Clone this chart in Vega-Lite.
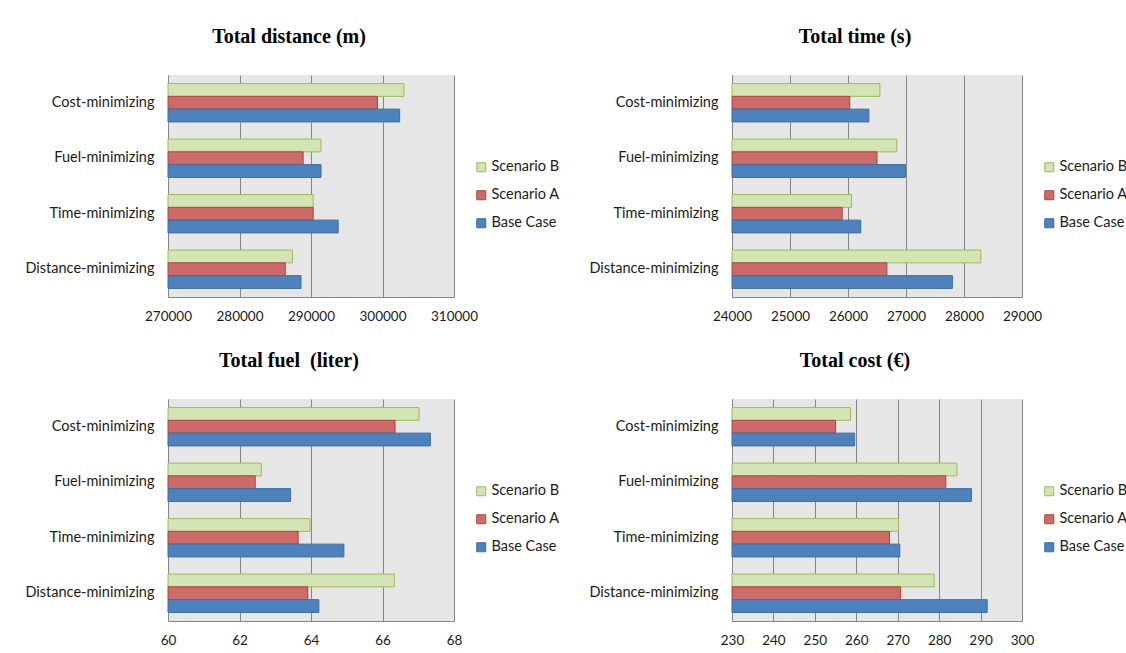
{
  "$schema": "https://vega.github.io/schema/vega-lite/v6.json",
  "background": "white",
  "padding": {"left": 5, "top": 27, "right": 5, "bottom": 5},
  "columns": 2,
  "spacing": {"row": 102, "column": 278},
  "bounds": "flush",
  "data": {
    "values": [
      {"metric": "distance", "strategy": "Cost-minimizing", "scenario": "Scenario B", "value": 303000},
      {"metric": "distance", "strategy": "Cost-minimizing", "scenario": "Scenario A", "value": 299300},
      {"metric": "distance", "strategy": "Cost-minimizing", "scenario": "Base Case", "value": 302400},
      {"metric": "distance", "strategy": "Fuel-minimizing", "scenario": "Scenario B", "value": 291400},
      {"metric": "distance", "strategy": "Fuel-minimizing", "scenario": "Scenario A", "value": 288900},
      {"metric": "distance", "strategy": "Fuel-minimizing", "scenario": "Base Case", "value": 291400},
      {"metric": "distance", "strategy": "Time-minimizing", "scenario": "Scenario B", "value": 290300},
      {"metric": "distance", "strategy": "Time-minimizing", "scenario": "Scenario A", "value": 290300},
      {"metric": "distance", "strategy": "Time-minimizing", "scenario": "Base Case", "value": 293800},
      {"metric": "distance", "strategy": "Distance-minimizing", "scenario": "Scenario B", "value": 287400},
      {"metric": "distance", "strategy": "Distance-minimizing", "scenario": "Scenario A", "value": 286400},
      {"metric": "distance", "strategy": "Distance-minimizing", "scenario": "Base Case", "value": 288600},

      {"metric": "time", "strategy": "Cost-minimizing", "scenario": "Scenario B", "value": 26550},
      {"metric": "time", "strategy": "Cost-minimizing", "scenario": "Scenario A", "value": 26030},
      {"metric": "time", "strategy": "Cost-minimizing", "scenario": "Base Case", "value": 26360},
      {"metric": "time", "strategy": "Fuel-minimizing", "scenario": "Scenario B", "value": 26840},
      {"metric": "time", "strategy": "Fuel-minimizing", "scenario": "Scenario A", "value": 26500},
      {"metric": "time", "strategy": "Fuel-minimizing", "scenario": "Base Case", "value": 26990},
      {"metric": "time", "strategy": "Time-minimizing", "scenario": "Scenario B", "value": 26060},
      {"metric": "time", "strategy": "Time-minimizing", "scenario": "Scenario A", "value": 25900},
      {"metric": "time", "strategy": "Time-minimizing", "scenario": "Base Case", "value": 26220},
      {"metric": "time", "strategy": "Distance-minimizing", "scenario": "Scenario B", "value": 28290},
      {"metric": "time", "strategy": "Distance-minimizing", "scenario": "Scenario A", "value": 26670},
      {"metric": "time", "strategy": "Distance-minimizing", "scenario": "Base Case", "value": 27800},

      {"metric": "fuel", "strategy": "Cost-minimizing", "scenario": "Scenario B", "value": 67.02},
      {"metric": "fuel", "strategy": "Cost-minimizing", "scenario": "Scenario A", "value": 66.35},
      {"metric": "fuel", "strategy": "Cost-minimizing", "scenario": "Base Case", "value": 67.34},
      {"metric": "fuel", "strategy": "Fuel-minimizing", "scenario": "Scenario B", "value": 62.61},
      {"metric": "fuel", "strategy": "Fuel-minimizing", "scenario": "Scenario A", "value": 62.44},
      {"metric": "fuel", "strategy": "Fuel-minimizing", "scenario": "Base Case", "value": 63.43},
      {"metric": "fuel", "strategy": "Time-minimizing", "scenario": "Scenario B", "value": 63.97},
      {"metric": "fuel", "strategy": "Time-minimizing", "scenario": "Scenario A", "value": 63.64},
      {"metric": "fuel", "strategy": "Time-minimizing", "scenario": "Base Case", "value": 64.92},
      {"metric": "fuel", "strategy": "Distance-minimizing", "scenario": "Scenario B", "value": 66.33},
      {"metric": "fuel", "strategy": "Distance-minimizing", "scenario": "Scenario A", "value": 63.91},
      {"metric": "fuel", "strategy": "Distance-minimizing", "scenario": "Base Case", "value": 64.22},

      {"metric": "cost", "strategy": "Cost-minimizing", "scenario": "Scenario B", "value": 258.6},
      {"metric": "cost", "strategy": "Cost-minimizing", "scenario": "Scenario A", "value": 255.0},
      {"metric": "cost", "strategy": "Cost-minimizing", "scenario": "Base Case", "value": 259.6},
      {"metric": "cost", "strategy": "Fuel-minimizing", "scenario": "Scenario B", "value": 284.3},
      {"metric": "cost", "strategy": "Fuel-minimizing", "scenario": "Scenario A", "value": 281.6},
      {"metric": "cost", "strategy": "Fuel-minimizing", "scenario": "Base Case", "value": 287.8},
      {"metric": "cost", "strategy": "Time-minimizing", "scenario": "Scenario B", "value": 270.2},
      {"metric": "cost", "strategy": "Time-minimizing", "scenario": "Scenario A", "value": 268.0},
      {"metric": "cost", "strategy": "Time-minimizing", "scenario": "Base Case", "value": 270.5},
      {"metric": "cost", "strategy": "Distance-minimizing", "scenario": "Scenario B", "value": 278.8},
      {"metric": "cost", "strategy": "Distance-minimizing", "scenario": "Scenario A", "value": 270.7},
      {"metric": "cost", "strategy": "Distance-minimizing", "scenario": "Base Case", "value": 291.6}
    ]
  },
  "resolve": {
    "scale": {"x": "independent", "y": "independent", "fill": "independent", "stroke": "independent"},
    "axis": {"x": "independent", "y": "independent"},
    "legend": {"fill": "independent", "stroke": "independent"}
  },
  "concat": [
    {
      "title": "Total distance (m)",
      "width": 286,
      "height": 222,
      "transform": [{"filter": "datum.metric === 'distance'"}],
      "mark": {"type": "bar", "strokeWidth": 1},
      "encoding": {
        "y": {"field": "strategy", "type": "nominal", "title": null,
              "sort": ["Cost-minimizing", "Fuel-minimizing", "Time-minimizing", "Distance-minimizing"],
              "scale": {"paddingInner": 0.31, "paddingOuter": 0.155}},
        "yOffset": {"field": "scenario", "type": "nominal",
                    "sort": ["Scenario B", "Scenario A", "Base Case"],
                    "scale": {"paddingInner": 0, "paddingOuter": 0}},
        "x": {"field": "value", "type": "quantitative", "title": null,
              "scale": {"domain": [270000, 310000], "zero": false, "nice": false},
              "axis": {"values": [270000, 280000, 290000, 300000, 310000], "format": "d"}},
        "x2": {"datum": 270000},
        "fill": {"field": "scenario", "type": "nominal",
                 "scale": {"domain": ["Scenario B", "Scenario A", "Base Case"], "range": ["#d3e5b5", "#cc6b68", "#4f81bd"]},
                 "legend": {"title": null, "orient": "none", "legendX": 306, "legendY": 85}},
        "stroke": {"field": "scenario", "type": "nominal",
                   "scale": {"domain": ["Scenario B", "Scenario A", "Base Case"], "range": ["#9bbb59", "#a94442", "#3d6ca3"]},
                   "legend": {"title": null, "orient": "none", "legendX": 306, "legendY": 85}}
      }
    },
    {
      "title": "Total time (s)",
      "width": 290,
      "height": 222,
      "transform": [{"filter": "datum.metric === 'time'"}],
      "mark": {"type": "bar", "strokeWidth": 1},
      "encoding": {
        "y": {"field": "strategy", "type": "nominal", "title": null,
              "sort": ["Cost-minimizing", "Fuel-minimizing", "Time-minimizing", "Distance-minimizing"],
              "scale": {"paddingInner": 0.31, "paddingOuter": 0.155}},
        "yOffset": {"field": "scenario", "type": "nominal",
                    "sort": ["Scenario B", "Scenario A", "Base Case"],
                    "scale": {"paddingInner": 0, "paddingOuter": 0}},
        "x": {"field": "value", "type": "quantitative", "title": null,
              "scale": {"domain": [24000, 29000], "zero": false, "nice": false},
              "axis": {"values": [24000, 25000, 26000, 27000, 28000, 29000], "format": "d"}},
        "x2": {"datum": 24000},
        "fill": {"field": "scenario", "type": "nominal",
                 "scale": {"domain": ["Scenario B", "Scenario A", "Base Case"], "range": ["#d3e5b5", "#cc6b68", "#4f81bd"]},
                 "legend": {"title": null, "orient": "none", "legendX": 310, "legendY": 85}},
        "stroke": {"field": "scenario", "type": "nominal",
                   "scale": {"domain": ["Scenario B", "Scenario A", "Base Case"], "range": ["#9bbb59", "#a94442", "#3d6ca3"]},
                   "legend": {"title": null, "orient": "none", "legendX": 310, "legendY": 85}}
      }
    },
    {
      "title": "Total fuel \u00a0(liter)",
      "width": 286,
      "height": 222,
      "transform": [{"filter": "datum.metric === 'fuel'"}],
      "mark": {"type": "bar", "strokeWidth": 1},
      "encoding": {
        "y": {"field": "strategy", "type": "nominal", "title": null,
              "sort": ["Cost-minimizing", "Fuel-minimizing", "Time-minimizing", "Distance-minimizing"],
              "scale": {"paddingInner": 0.31, "paddingOuter": 0.155}},
        "yOffset": {"field": "scenario", "type": "nominal",
                    "sort": ["Scenario B", "Scenario A", "Base Case"],
                    "scale": {"paddingInner": 0, "paddingOuter": 0}},
        "x": {"field": "value", "type": "quantitative", "title": null,
              "scale": {"domain": [60, 68], "zero": false, "nice": false},
              "axis": {"values": [60, 62, 64, 66, 68], "format": "d"}},
        "x2": {"datum": 60},
        "fill": {"field": "scenario", "type": "nominal",
                 "scale": {"domain": ["Scenario B", "Scenario A", "Base Case"], "range": ["#d3e5b5", "#cc6b68", "#4f81bd"]},
                 "legend": {"title": null, "orient": "none", "legendX": 306, "legendY": 85}},
        "stroke": {"field": "scenario", "type": "nominal",
                   "scale": {"domain": ["Scenario B", "Scenario A", "Base Case"], "range": ["#9bbb59", "#a94442", "#3d6ca3"]},
                   "legend": {"title": null, "orient": "none", "legendX": 306, "legendY": 85}}
      }
    },
    {
      "title": "Total cost (€)",
      "width": 290,
      "height": 222,
      "transform": [{"filter": "datum.metric === 'cost'"}],
      "mark": {"type": "bar", "strokeWidth": 1},
      "encoding": {
        "y": {"field": "strategy", "type": "nominal", "title": null,
              "sort": ["Cost-minimizing", "Fuel-minimizing", "Time-minimizing", "Distance-minimizing"],
              "scale": {"paddingInner": 0.31, "paddingOuter": 0.155}},
        "yOffset": {"field": "scenario", "type": "nominal",
                    "sort": ["Scenario B", "Scenario A", "Base Case"],
                    "scale": {"paddingInner": 0, "paddingOuter": 0}},
        "x": {"field": "value", "type": "quantitative", "title": null,
              "scale": {"domain": [230, 300], "zero": false, "nice": false},
              "axis": {"values": [230, 240, 250, 260, 270, 280, 290, 300], "format": "d"}},
        "x2": {"datum": 230},
        "fill": {"field": "scenario", "type": "nominal",
                 "scale": {"domain": ["Scenario B", "Scenario A", "Base Case"], "range": ["#d3e5b5", "#cc6b68", "#4f81bd"]},
                 "legend": {"title": null, "orient": "none", "legendX": 310, "legendY": 85}},
        "stroke": {"field": "scenario", "type": "nominal",
                   "scale": {"domain": ["Scenario B", "Scenario A", "Base Case"], "range": ["#9bbb59", "#a94442", "#3d6ca3"]},
                   "legend": {"title": null, "orient": "none", "legendX": 310, "legendY": 85}}
      }
    }
  ],
  "config": {
    "view": {"fill": "#e6e6e6", "stroke": null},
    "axis": {
      "labelFont": "Lato",
      "labelFontSize": 14.5,
      "labelColor": "#1a1a1a",
      "ticks": false,
      "domainColor": "#868686",
      "gridColor": "#868686",
      "gridOpacity": 1,
      "labelFlush": false,
      "labelOverlap": false
    },
    "axisY": {"grid": false, "labelPadding": 14, "minExtent": 163, "maxExtent": 163},
    "axisX": {"grid": true, "labelPadding": 12, "labelFontSize": 13.5},
    "legend": {
      "labelFont": "Lato",
      "labelFontSize": 14.5,
      "labelColor": "#1a1a1a",
      "symbolType": "square",
      "symbolSize": 81,
      "symbolStrokeWidth": 1,
      "rowPadding": 13,
      "labelOffset": 3
    },
    "title": {
      "font": "Liberation Serif",
      "fontSize": 20,
      "fontWeight": "bold",
      "color": "#000000",
      "offset": 28,
      "dx": -22,
      "anchor": "middle"
    }
  }
}
